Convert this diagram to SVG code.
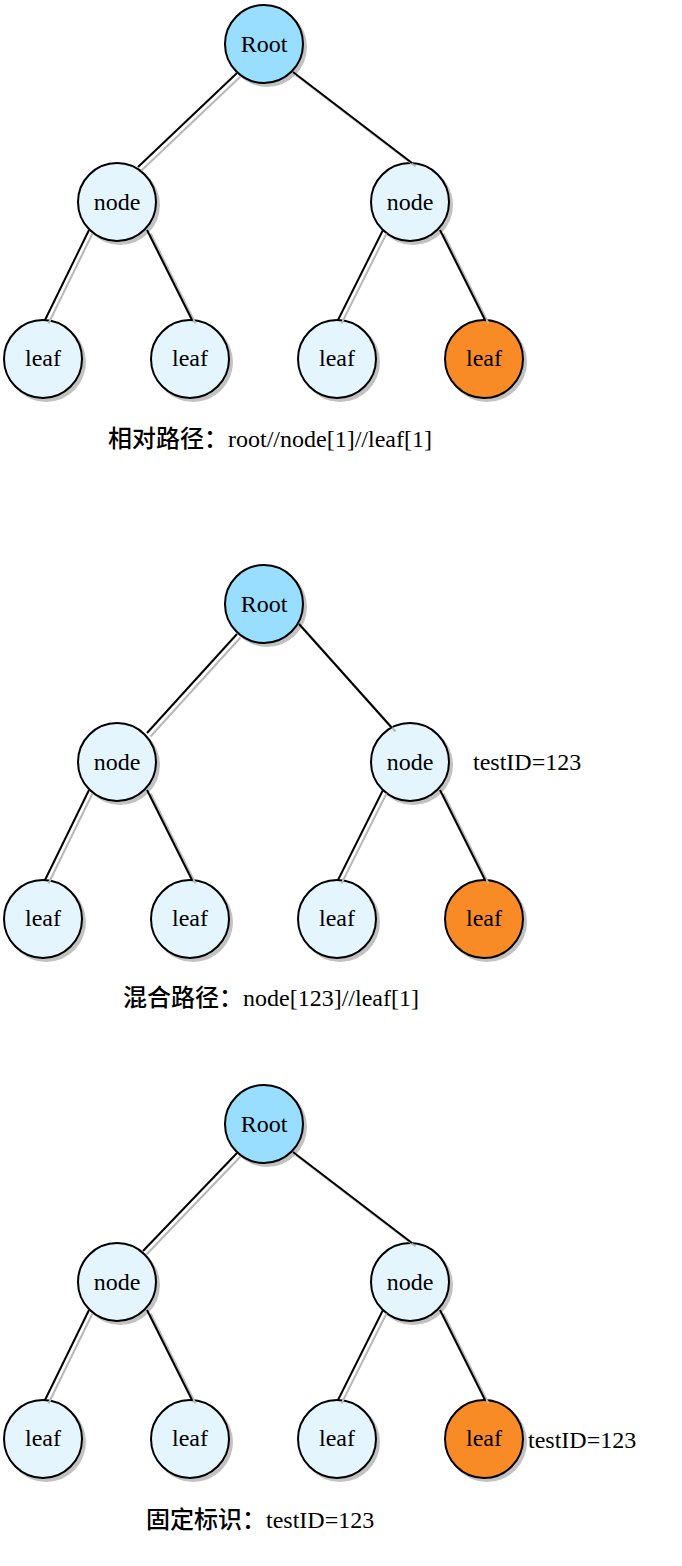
<svg xmlns="http://www.w3.org/2000/svg" width="682" height="1566" viewBox="0 0 682 1566">
<style>
.sh{fill:#c2c2c2;stroke:none}
.c{stroke:#000;stroke-width:2}
.root{fill:#99DDFF}
.node{fill:#E4F5FD}
.hit{fill:#F98B27}
.t{font-family:"Liberation Serif","Times New Roman",serif;font-size:24px;fill:#000;text-anchor:middle}
.lbl{font-family:"Liberation Serif","Noto Sans CJK SC",serif;font-size:24px;fill:#000}
.zh{font-family:"Noto Sans CJK SC",sans-serif;font-weight:500}
.e{stroke:#000;stroke-width:2;fill:none}
.es{stroke:#b8b8b8;stroke-width:2;fill:none}
</style>
<rect width="682" height="1566" fill="#fff"/>

<!-- ===== Section 1 ===== -->
<g id="s1">
  <g id="s1-root"><circle class="sh" cx="267" cy="47" r="40"/><circle class="c root" cx="264" cy="44" r="39"/><text class="t" x="264" y="52">Root</text></g>
  <g id="s1-nodeL"><circle class="sh" cx="120" cy="205" r="40"/><circle class="c node" cx="117" cy="202" r="39"/><text class="t" x="117" y="210">node</text></g>
  <g id="s1-nodeR"><circle class="sh" cx="413" cy="205" r="40"/><circle class="c node" cx="410" cy="202" r="39"/><text class="t" x="410" y="210">node</text></g>
  <g id="s1-leaf1"><circle class="sh" cx="46" cy="362" r="40"/><circle class="c node" cx="43" cy="359" r="39"/><text class="t" x="43" y="366">leaf</text></g>
  <g id="s1-leaf2"><circle class="sh" cx="193" cy="362" r="40"/><circle class="c node" cx="190" cy="359" r="39"/><text class="t" x="190" y="366">leaf</text></g>
  <g id="s1-leaf3"><circle class="sh" cx="340" cy="362" r="40"/><circle class="c node" cx="337" cy="359" r="39"/><text class="t" x="337" y="366">leaf</text></g>
  <g id="s1-leaf4"><circle class="sh" cx="487" cy="362" r="40"/><circle class="c hit" cx="484" cy="359" r="39"/><text class="t" x="484" y="366">leaf</text></g>
  <g id="s1-edges">
    <g class="es" transform="translate(3.5,3.5)">
      <line x1="237" y1="73" x2="138" y2="167"/>
      <line x1="293" y1="72" x2="412" y2="163"/>
      <line x1="89" y1="230" x2="45" y2="320"/>
      <line x1="147" y1="230" x2="192" y2="320"/>
      <line x1="383" y1="230" x2="338" y2="320"/>
      <line x1="440" y1="230" x2="485" y2="320"/>
    </g>
    <g class="e">
      <line x1="237" y1="73" x2="138" y2="167"/>
      <line x1="293" y1="72" x2="412" y2="163"/>
      <line x1="89" y1="230" x2="45" y2="320"/>
      <line x1="147" y1="230" x2="192" y2="320"/>
      <line x1="383" y1="230" x2="338" y2="320"/>
      <line x1="440" y1="230" x2="485" y2="320"/>
    </g>
  </g>
  <text id="s1-label" class="lbl" x="108" y="447"><tspan class="zh">相对路径：</tspan>root//node[1]//leaf[1]</text>
</g>

<!-- ===== Section 2 ===== -->
<g id="s2">
  <g id="s2-root"><circle class="sh" cx="267" cy="607" r="40"/><circle class="c root" cx="264" cy="604" r="39"/><text class="t" x="264" y="612">Root</text></g>
  <g id="s2-nodeL"><circle class="sh" cx="120" cy="765" r="40"/><circle class="c node" cx="117" cy="762" r="39"/><text class="t" x="117" y="770">node</text></g>
  <g id="s2-nodeR"><circle class="sh" cx="413" cy="765" r="40"/><circle class="c node" cx="410" cy="762" r="39"/><text class="t" x="410" y="770">node</text></g>
  <g id="s2-leaf1"><circle class="sh" cx="46" cy="922" r="40"/><circle class="c node" cx="43" cy="919" r="39"/><text class="t" x="43" y="926">leaf</text></g>
  <g id="s2-leaf2"><circle class="sh" cx="193" cy="922" r="40"/><circle class="c node" cx="190" cy="919" r="39"/><text class="t" x="190" y="926">leaf</text></g>
  <g id="s2-leaf3"><circle class="sh" cx="340" cy="922" r="40"/><circle class="c node" cx="337" cy="919" r="39"/><text class="t" x="337" y="926">leaf</text></g>
  <g id="s2-leaf4"><circle class="sh" cx="487" cy="922" r="40"/><circle class="c hit" cx="484" cy="919" r="39"/><text class="t" x="484" y="926">leaf</text></g>
  <g id="s2-edges">
    <g class="es" transform="translate(3.5,3.5)">
      <line x1="237" y1="634" x2="147" y2="733"/>
      <line x1="299" y1="624" x2="392" y2="728"/>
      <line x1="89" y1="790" x2="45" y2="880"/>
      <line x1="147" y1="790" x2="192" y2="880"/>
      <line x1="383" y1="790" x2="338" y2="880"/>
      <line x1="440" y1="790" x2="485" y2="880"/>
    </g>
    <g class="e">
      <line x1="237" y1="634" x2="147" y2="733"/>
      <line x1="299" y1="624" x2="392" y2="728"/>
      <line x1="89" y1="790" x2="45" y2="880"/>
      <line x1="147" y1="790" x2="192" y2="880"/>
      <line x1="383" y1="790" x2="338" y2="880"/>
      <line x1="440" y1="790" x2="485" y2="880"/>
    </g>
  </g>
  <text id="s2-testid" class="lbl" x="473" y="770">testID=123</text>
  <text id="s2-label" class="lbl" x="123" y="1006"><tspan class="zh">混合路径：</tspan>node[123]//leaf[1]</text>
</g>

<!-- ===== Section 3 ===== -->
<g id="s3">
  <g id="s3-root"><circle class="sh" cx="267" cy="1127" r="40"/><circle class="c root" cx="264" cy="1124" r="39"/><text class="t" x="264" y="1132">Root</text></g>
  <g id="s3-nodeL"><circle class="sh" cx="120" cy="1285" r="40"/><circle class="c node" cx="117" cy="1282" r="39"/><text class="t" x="117" y="1290">node</text></g>
  <g id="s3-nodeR"><circle class="sh" cx="413" cy="1285" r="40"/><circle class="c node" cx="410" cy="1282" r="39"/><text class="t" x="410" y="1290">node</text></g>
  <g id="s3-leaf1"><circle class="sh" cx="46" cy="1442" r="40"/><circle class="c node" cx="43" cy="1439" r="39"/><text class="t" x="43" y="1446">leaf</text></g>
  <g id="s3-leaf2"><circle class="sh" cx="193" cy="1442" r="40"/><circle class="c node" cx="190" cy="1439" r="39"/><text class="t" x="190" y="1446">leaf</text></g>
  <g id="s3-leaf3"><circle class="sh" cx="340" cy="1442" r="40"/><circle class="c node" cx="337" cy="1439" r="39"/><text class="t" x="337" y="1446">leaf</text></g>
  <g id="s3-leaf4"><circle class="sh" cx="487" cy="1442" r="40"/><circle class="c hit" cx="484" cy="1439" r="39"/><text class="t" x="484" y="1446">leaf</text></g>
  <g id="s3-edges">
    <g class="es" transform="translate(3.5,3.5)">
      <line x1="237" y1="1153" x2="143" y2="1251"/>
      <line x1="293" y1="1152" x2="412" y2="1243"/>
      <line x1="89" y1="1310" x2="45" y2="1400"/>
      <line x1="147" y1="1310" x2="192" y2="1400"/>
      <line x1="383" y1="1310" x2="338" y2="1400"/>
      <line x1="440" y1="1310" x2="485" y2="1400"/>
    </g>
    <g class="e">
      <line x1="237" y1="1153" x2="143" y2="1251"/>
      <line x1="293" y1="1152" x2="412" y2="1243"/>
      <line x1="89" y1="1310" x2="45" y2="1400"/>
      <line x1="147" y1="1310" x2="192" y2="1400"/>
      <line x1="383" y1="1310" x2="338" y2="1400"/>
      <line x1="440" y1="1310" x2="485" y2="1400"/>
    </g>
  </g>
  <text id="s3-testid" class="lbl" x="528" y="1448">testID=123</text>
  <text id="s3-label" class="lbl" x="146" y="1528"><tspan class="zh">固定标识：</tspan>testID=123</text>
</g>
</svg>
